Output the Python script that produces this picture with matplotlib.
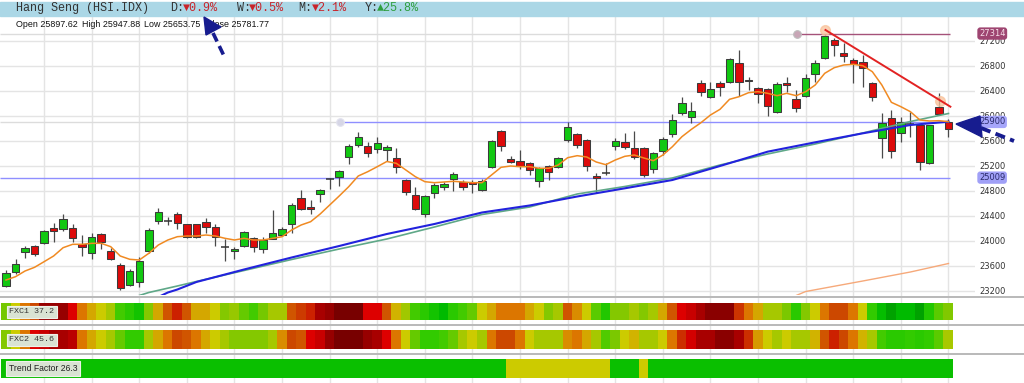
import numpy as np
import matplotlib
matplotlib.use('Agg')
import matplotlib.pyplot as plt
from matplotlib.colors import LinearSegmentedColormap
from matplotlib.patches import Rectangle, Polygon

# ---------------- data ----------------
opens = [23275, 23494, 23819, 23920, 23968, 24208, 24182, 24208, 23942, 23798,
         24102, 23835, 23606, 23286, 23334, 23830, 24320, 24320, 24432, 24262,
         24262, 24294, 24224, 23894, 23835, 23920, 24043, 23862, 24032, 24096,
         24267, 24678, 24536, 24755, 24982, 25024, 25344, 25531, 25520, 25462,
         25451, 25318, 24971, 24731, 24427, 24758, 24854, 24987, 24944, 24934,
         24811, 25174, 25755, 25307, 25275, 25238, 24960, 25200, 25174, 25611,
         25702, 25616, 25030, 25083, 25510, 25584, 25483, 25478, 25142, 25440,
         25702, 26038, 25984, 26528, 26304, 26528, 26544, 26848, 26571, 26438,
         26435, 26064, 26528, 26267, 26315, 26667, 26918, 27211, 26998, 26891,
         26854, 26518, 25638, 25958, 25718, 25867, 25851, 25238, 26144, 25897.62]
highs = [23531, 23702, 23920, 23936, 24171, 24288, 24427, 24262, 24091, 24118,
         24128, 23878, 23638, 23542, 23734, 24198, 24518, 24384, 24459, 24270,
         24275, 24358, 24262, 24022, 23904, 24160, 24064, 24064, 24491, 24224,
         24598, 24811, 24651, 24827, 24998, 25131, 25542, 25734, 25574, 25664,
         25531, 25488, 24987, 24854, 24731, 24918, 24944, 25104, 24971, 24971,
         24987, 25611, 25771, 25360, 25451, 25254, 25184, 25211, 25344, 25904,
         25728, 25632, 25091, 25251, 25638, 25718, 25763, 25494, 25424, 25664,
         26027, 26294, 26224, 26571, 26534, 26560, 26918, 27051, 26624, 26464,
         26443, 26544, 26624, 26411, 26662, 26891, 27314, 27238, 27158, 26918,
         26971, 26544, 26038, 26091, 25984, 26054, 25860, 25859, 26358, 25947.88]
lows = [23254, 23462, 23718, 23760, 23942, 23984, 24160, 23984, 23760, 23702,
        23862, 23691, 23211, 23275, 23264, 23808, 24267, 24251, 24182, 24048,
        24048, 24118, 23915, 23675, 23702, 23899, 23819, 23798, 24022, 24075,
        24128, 24491, 24435, 24619, 24827, 24875, 25222, 25494, 25344, 25398,
        25280, 25078, 24731, 24491, 24374, 24678, 24811, 24800, 24811, 24768,
        24795, 25158, 25440, 25238, 25142, 25051, 24864, 24971, 25158, 25584,
        25478, 25120, 24771, 25059, 25451, 25467, 25307, 25019, 25078, 25371,
        25664, 26011, 25878, 26320, 26278, 26320, 26528, 26315, 26411, 26198,
        25995, 26038, 26384, 26054, 26304, 26534, 26907, 26960, 26854, 26518,
        26464, 26235, 25318, 25328, 25574, 25664, 25131, 25227, 26011, 25653.75]
closes = [23488, 23627, 23888, 23787, 24160, 24155, 24347, 24038, 23894, 24054,
          23984, 23702, 23238, 23520, 23675, 24171, 24464, 24320, 24278, 24064,
          24064, 24224, 24064, 23894, 23872, 24134, 23894, 24011, 24128, 24182,
          24566, 24510, 24502, 24811, 24982, 25115, 25520, 25654, 25398, 25558,
          25504, 25174, 24774, 24507, 24720, 24891, 24907, 25067, 24864, 24907,
          24955, 25600, 25520, 25264, 25195, 25131, 25158, 25104, 25318, 25824,
          25531, 25195, 25003, 25083, 25603, 25494, 25344, 25059, 25398, 25627,
          25931, 26198, 26075, 26384, 26427, 26454, 26902, 26534, 26555, 26347,
          26155, 26502, 26491, 26128, 26608, 26838, 27280, 27131, 26955, 26827,
          26758, 26294, 25878, 25440, 25904, 25867, 25254, 25851, 26022, 25781.77]

ma_fast = [23371, 23424, 23515, 23574, 23664, 23755, 23888, 23942, 23942, 23958,
           23958, 23904, 23755, 23702, 23691, 23798, 23931, 24011, 24064, 24075,
           24075, 24091, 24075, 24038, 24011, 24038, 24011, 24011, 24038, 24064,
           24171, 24251, 24304, 24427, 24571, 24715, 24864, 25035, 25104, 25184,
           25267, 25238, 25131, 25024, 24944, 24928, 24939, 24950, 24939, 24928,
           24928, 25051, 25174, 25195, 25184, 25184, 25158, 25158, 25211, 25328,
           25360, 25339, 25259, 25216, 25291, 25350, 25371, 25323, 25280, 25371,
           25504, 25664, 25782, 25888, 26011, 26102, 26262, 26304, 26368, 26384,
           26358, 26320, 26358, 26320, 26384, 26491, 26678, 26768, 26811, 26822,
           26800, 26704, 26491, 26214, 26144, 26064, 25931, 25915, 25920, 25904]

ma_blue_idx = [16, 17, 18, 20, 25, 30, 35, 40, 45, 50, 55, 60, 65, 70, 75, 80, 85, 90, 95, 99]
ma_blue = [23099, 23171, 23219, 23339, 23539, 23731, 23915, 24107, 24267, 24451,
           24563, 24707, 24838, 24971, 25195, 25424, 25574, 25718, 25851, 25904]
ma_green_idx = [14, 15, 18, 20, 25, 30, 35, 40, 45, 50, 55, 60, 65, 70, 75, 80, 85, 90, 95, 99]
ma_green = [23123, 23171, 23275, 23347, 23523, 23699, 23867, 24027, 24219, 24419,
            24539, 24747, 24867, 25003, 25211, 25387, 25547, 25723, 25907, 26035]
ma_slow_idx = [83, 84, 90, 95, 99]
ma_slow = [23123, 23187, 23355, 23499, 23635]

trend_x = [86.08, 99.2]
trend_y = [27371, 26144]
trend_anchor_x = [86.08, 98.1]
trend_anchor_y = [27371, 26243]

levels = [27314, 25900, 25009]
level_start = [83.1, 35.1, None]

fxc1 = [35, 52, 65, 72, 93, 93, 93, 80, 65, 58, 52, 45, 25, 20, 15, 38, 58, 70, 78, 70,
        58, 58, 52, 38, 42, 32, 25, 35, 45, 45, 70, 74, 78, 90, 93, 100, 100, 100, 80, 80,
        70, 56, 44, 25, 20, 15, 8, 20, 25, 32, 52, 58, 65, 65,
        65, 58, 52, 38, 45, 70, 62, 52, 30, 18, 38, 38, 45, 38, 45, 58, 70, 80, 84, 90,
        96, 96, 96, 75, 65, 58, 45, 45, 36, 20, 38, 52, 65, 72, 72, 65, 52, 22, 10, 2,
        8, 8, 2, 18, 30, 37.2]
fxc2 = [38, 52, 65, 80, 84, 90, 90, 87, 65, 58, 52, 45, 32, 22, 22, 45, 58, 65, 72, 70,
        65, 58, 52, 45, 38, 38, 38, 38, 45, 62, 72, 70, 80, 84, 93, 100, 100, 100, 93, 90,
        80, 65, 52, 32, 22, 22, 25, 32, 45, 52, 45, 65, 72, 72,
        65, 52, 45, 45, 45, 62, 65, 58, 45, 28, 36, 52, 56, 45, 45, 52, 65, 76, 82, 90,
        90, 96, 96, 90, 76, 60, 52, 45, 52, 45, 45, 56, 70, 78, 72, 65, 56, 45, 25, 20,
        20, 22, 20, 22, 30, 45.6]
trend_factor = ([12] * 53) + ([52] * 11) + ([12] * 3) + [52] + ([12] * 32)

ytick_vals = list(range(23200, 27201, 400))

# ---------------- layout ----------------
W, H = 1024, 383
fig = plt.figure(figsize=(W / 100, H / 100), dpi=100)
fig.patch.set_facecolor('white')


def fr(x0, y0, x1, y1):
    return [x0 / W, 1 - y1 / H, (x1 - x0) / W, (y1 - y0) / H]


STEP = 9.52
X0 = 6.0
XL = (-X0 / STEP, (975 - X0) / STEP)

# background vertical grid
bg = fig.add_axes(fr(0, 17, 975, 383))
bg.set_xlim(XL)
bg.set_ylim(0, 1)
bg.axis('off')
for gx in range(4, 100, 5):
    bg.axvline(gx, color='#e4e4e4', lw=1)

# price axes
ax = fig.add_axes(fr(0, 17, 975, 295))
ax.set_facecolor('none')
ax.set_xlim(XL)
ax.set_ylim(23131, 27579)
for s in ax.spines.values():
    s.set_visible(False)
ax.set_xticks([])
ax.yaxis.tick_right()
ax.set_yticks(ytick_vals)
ax.set_yticklabels([str(v) for v in ytick_vals])
ax.tick_params(axis='y', length=0, pad=3, labelsize=6, labelcolor='#333333')
ax.grid(axis='y', color='#e4e4e4', lw=1)
ax.set_axisbelow(True)

o = np.array(opens, float)
h = np.array(highs, float)
l = np.array(lows, float)
c = np.array(closes, float)
idx = np.arange(len(o))
up = c > o
dn = c < o
dj = c == o

# level lines
lv_colors = ['#a5527a', '#8f8fff', '#8f8fff']
for lev, st, col in zip(levels, level_start, lv_colors):
    if st is None:
        ax.hlines(lev, XL[0], 99.2, color=col, lw=1, zorder=2)
    else:
        ax.hlines(lev, XL[0], st, color='#dcdcdc', lw=1, zorder=1.5)
        ax.hlines(lev, st, 99.2, color=col, lw=1, zorder=2)
ax.plot(level_start[0], levels[0], 'o', ms=5.5, mfc='#c8a6b6', mec='#bdbdbd', mew=0.8, zorder=3)
ax.plot(level_start[1], levels[1], 'o', ms=5.5, mfc='#d6d6e6', mec='#e2e2ee', mew=0.8, zorder=3)

# candles
ax.vlines(idx, l, h, color='#4a4a4a', lw=0.9, zorder=3)
ax.bar(idx[up], (c - o)[up], bottom=o[up], width=0.78, color='#12c812',
       edgecolor='#3c3c3c', linewidth=0.75, zorder=4)
ax.bar(idx[dn], (o - c)[dn], bottom=c[dn], width=0.78, color='#dd0b0b',
       edgecolor='#3c3c3c', linewidth=0.75, zorder=4)
ax.hlines(o[dj], idx[dj] - 0.42, idx[dj] + 0.42, color='#333333', lw=1.1, zorder=4)

# moving averages
ax.plot(ma_slow_idx, ma_slow, color='#f6a97a', lw=1.0, zorder=5)
ax.plot(ma_green_idx, ma_green, color='#5fa888', lw=1.2, zorder=5)
ax.plot(ma_blue_idx, ma_blue, color='#2222dd', lw=1.5, zorder=5.1)
ax.plot(idx, ma_fast, color='#f08a22', lw=1.1, zorder=5.2)

# trendline
ax.plot(trend_anchor_x, trend_anchor_y, 'o', ms=7, color='#f9c29a', alpha=0.75, zorder=5.3)
ax.plot(trend_x, trend_y, color='#e22222', lw=1.4, zorder=5.4)

# right-side level labels
lab_x = (979 - X0) / STEP
lab_face = ['#9e4571', '#a6a6fb', '#a0a0f7']
lab_txt = ['#f6dfea', '#2b2b6b', '#2b2b6b']
for lev, fc, tc in zip(levels, lab_face, lab_txt):
    ax.text(lab_x, lev, str(lev), fontsize=6, color=tc, va='center', ha='left',
            clip_on=False, zorder=8,
            bbox=dict(boxstyle='round,pad=0.2,rounding_size=0.35', fc=fc, ec='none'))

# ---------------- heat strips ----------------
nodes = [(0.00, '#009a00'), (0.08, '#00bb00'), (0.15, '#14c400'), (0.22, '#33cc00'),
         (0.30, '#5ccb00'), (0.37, '#80c800'), (0.45, '#a6c800'), (0.52, '#cccc00'),
         (0.58, '#d4a800'), (0.65, '#dd7700'), (0.72, '#cc4a00'), (0.78, '#cc2200'),
         (0.80, '#dd0000'), (0.87, '#bb0000'), (0.93, '#990000'), (1.00, '#780000')]
cmap = LinearSegmentedColormap.from_list('fx', nodes)


def strip(y0, y1, vals):
    a = fig.add_axes(fr(0, y0, 975, y1))
    a.imshow(np.array(vals, float)[None, :], cmap=cmap, vmin=0, vmax=100, aspect='auto',
             extent=(-0.5, len(vals) - 0.5, 0, 1), interpolation='nearest')
    a.set_xlim(XL)
    a.set_ylim(0, 1)
    a.axis('off')
    return a


strip(302.7, 320.3, fxc1)
strip(330.0, 349.0, fxc2)
strip(359.0, 378.3, trend_factor)

# ---------------- overlay (pixel coords) ----------------
ov = fig.add_axes([0, 0, 1, 1], zorder=10)
ov.set_xlim(0, W)
ov.set_ylim(H, 0)
ov.axis('off')
ov.patch.set_alpha(0)

ov.add_patch(Rectangle((0, 1.5), W, 14.5, color='#abd7e6', zorder=1))
for sy in (296.5, 324.5, 353.8):
    ov.plot([0, W], [sy, sy], color='#b9b9b9', lw=1.4, zorder=1)

mono = ['Liberation Mono', 'DejaVu Sans Mono']
hdr_y = 8.3
ov.text(16, hdr_y, 'Hang Seng (HSI.IDX)', family=mono, fontsize=8.5, color='#333333', va='center')
parts = [(170, 'D:', '#333333'), (183, '\u25bc0.9%', '#c8242a'),
         (237, 'W:', '#333333'), (249, '\u25bc0.5%', '#c8242a'),
         (298, 'M:', '#333333'), (312, '\u25bc2.1%', '#c8242a'),
         (365, 'Y:', '#333333'), (377, '\u25b225.8%', '#2e9e3e')]
for px, t, col in parts:
    ov.text(px, hdr_y, t, family=mono, fontsize=8.5, color=col, va='center')

sans = ['Liberation Sans', 'DejaVu Sans']
ohlc_parts = [(16, 'Open 25897.62'), (81.7, 'High 25947.88'), (144, 'Low 25653.75'), (206, 'Close 25781.77')]
for px, t in ohlc_parts:
    ov.text(px, 24.5, t, family=sans, fontsize=6.4, color='#111111', va='center')

# strip labels
lab_box = dict(boxstyle='square,pad=0.3', fc='#d9e3d3', ec='#eef2ea', lw=0.8)
ov.text(9, 311.7, 'FXC1 37.2', family=mono, fontsize=6, color='#333333', va='center', bbox=lab_box, zorder=5)
ov.text(9, 339.5, 'FXC2 45.6', family=mono, fontsize=6, color='#333333', va='center', bbox=lab_box, zorder=5)
ov.text(9, 368.5, 'Trend Factor 26.3', family=sans, fontsize=6.2, color='#222222', va='center', bbox=lab_box, zorder=5)

# arrows
navy = '#171c8f'
ov.add_patch(Polygon([(204, 17), (206, 35), (221, 27)], closed=True, color=navy, zorder=6))
ov.plot([213, 225], [33, 58], color=navy, lw=2.6, dashes=(2.6, 1.4), solid_capstyle='butt', zorder=6)
ov.add_patch(Polygon([(956, 124), (980, 116), (982, 137)], closed=True, color=navy, zorder=6))
ov.plot([981, 1014], [128, 141], color=navy, lw=2.8, dashes=(2.6, 1.4), solid_capstyle='butt', zorder=6)

fig.savefig('out.png', dpi=100)
